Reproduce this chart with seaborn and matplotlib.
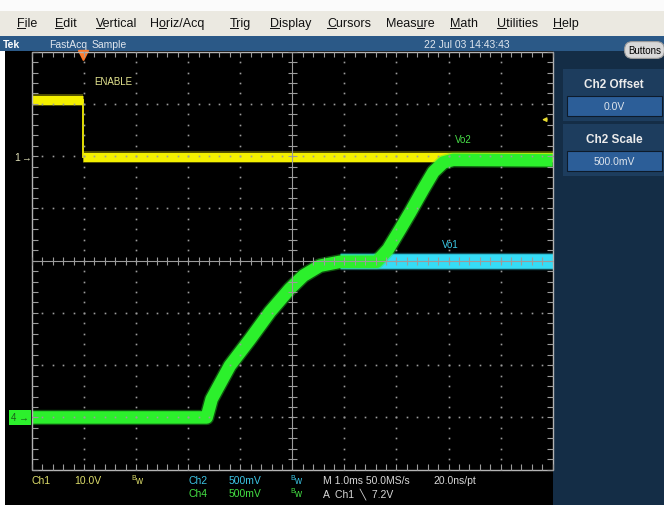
import numpy as np
import pandas as pd
import seaborn as sns
import matplotlib.pyplot as plt
import matplotlib.transforms as mtransforms
from matplotlib.patches import Rectangle
from matplotlib.lines import Line2D
from matplotlib import font_manager

# --- scope settings and captured waveforms (time in ms, volts) ---
time_per_div = 1.0
trigger_div = 0.97          # trigger position from left edge, in divisions
ch_scale = {1: 10.0, 2: 0.5, 4: 0.5}      # V/div
ch_position = {1: 1.98, 2: -3.0, 4: -3.0}  # ground marker position, div

enable_t = [-0.97, 0.0, 0.0, 9.03]
enable_v = [10.9, 10.9, 0.0, 0.0]

vo2_t = [-0.97, 2.385, 2.48, 2.83, 3.22, 3.60, 3.98, 4.24, 4.56, 4.95, 5.65,
         5.87, 6.10, 6.29, 6.55, 6.74, 6.93, 7.12, 9.03]
vo2_v = [0.0, 0.0, 0.175, 0.495, 0.75, 1.01, 1.23, 1.356, 1.452, 1.49, 1.49,
         1.61, 1.80, 1.96, 2.19, 2.35, 2.44, 2.465, 2.46]

vo1_t = [4.95, 9.03]
vo1_v = [1.50, 1.50]

trigger_level = 7.2

menu_items = ['File', 'Edit', 'Vertical', 'Horiz/Acq', 'Trig', 'Display',
              'Cursors', 'Measure', 'Math', 'Utilities', 'Help']
menu_hotkey = [0, 0, 0, 1, 0, 0, 0, 4, 0, 0, 0]
menu_x = [17, 55, 96, 150, 230, 270, 327, 386, 450, 497, 553]

W, H = 664, 506
YELLOW = '#f4f000'
GREEN = '#2cf02c'
CYAN = '#36dcf6'
GRID = '#9c9c9c'

names = {f.name for f in font_manager.fontManager.ttflist}
narrow = 'Liberation Sans Narrow' if 'Liberation Sans Narrow' in names else 'Liberation Sans'
plt.rcParams['font.family'] = [narrow, 'DejaVu Sans']

fig = plt.figure(figsize=(W / 100, H / 100), dpi=100, facecolor='white')


def box(x0, y0, x1, y1, fc, ec='none', lw=0.0):
    fig.patches.append(Rectangle((x0 / W, 1 - y1 / H), (x1 - x0) / W, (y1 - y0) / H,
                                 transform=fig.transFigure, fc=fc, ec=ec, lw=lw, zorder=-5))


def label(x, y, s, color, size=7.5, **kw):
    return fig.text(x / W, 1 - y / H, s, color=color, fontsize=size, va='center', **kw)


# window chrome
box(0, 0, W, 12, '#fbfbfb')
box(0, 12, W, 37, '#ebe9e1')
box(0, 37, W, 52, '#2b5987')
box(5, 52, 553, H, 'black')
box(553, 52, W, H, '#142d46')

# right side panel
for y0, title, value in [(70, 'Ch2 Offset', '0.0V'), (125, 'Ch2 Scale', '500.0mV')]:
    box(563, y0, W, y0 + 52, '#1d3d5e')
    label(614, y0 + 15, title, '#ececec', size=8.5, ha='center', fontweight='bold')
    box(567, y0 + 27, 662, y0 + 47, '#2c5e98', ec='#0d1b2b', lw=0.8)
    label(614, y0 + 37, value, '#dde4ec', size=7.5, ha='center')
label(628, 51, 'Buttons', 'black', size=7,
      bbox=dict(boxstyle='round,pad=0.35,rounding_size=0.8', fc='#d8d8d8', ec='#9a9a9a', lw=0.8))

# menu bar
MENU_SIZE = 9
menu_texts = []
for s, x in zip(menu_items, menu_x):
    menu_texts.append(label(x, 24, s, '#111111', size=MENU_SIZE))

# status bar
label(3, 45, 'Tek', 'white', size=7.5, fontweight='bold')
label(49, 45, 'FastAcq', '#dfe6ee', size=7.5)
label(92, 45, 'Sample', '#dfe6ee', size=7.5)
label(424, 45, '22 Jul 03 14:43:43', '#dfe6ee', size=7.5)

# --- scope axes, one per channel, all sharing the graticule rectangle ---
rect = [32 / W, 1 - 470.7 / H, 520.7 / W, 418 / H]
xlim = (-trigger_div * time_per_div, (10 - trigger_div) * time_per_div)


def scope_axes(ch=None):
    a = fig.add_axes(rect)
    a.set_xlim(*xlim)
    if ch is None:
        a.set_ylim(-4, 4)
    else:
        a.set_ylim((-4 - ch_position[ch]) * ch_scale[ch], (4 - ch_position[ch]) * ch_scale[ch])
    a.axis('off')
    return a


ax2 = scope_axes(2)
ax1 = scope_axes(1)
ax4 = scope_axes(4)
axg = scope_axes()
axg.set_xlim(0, 10)


def trace(a, t, v, color, lw):
    df = pd.DataFrame({'t': t, 'v': v})
    kw = dict(estimator=None, sort=False, color=color, legend=False,
              solid_capstyle='butt', solid_joinstyle='round')
    sns.lineplot(data=df, x='t', y='v', ax=a, lw=lw + 2, alpha=0.35, **kw)
    sns.lineplot(data=df, x='t', y='v', ax=a, lw=lw, **kw)


trace(ax2, vo1_t, vo1_v, CYAN, 10.5)
for i in range(len(enable_t) - 1):
    seg_t, seg_v = enable_t[i:i + 2], enable_v[i:i + 2]
    if seg_t[0] == seg_t[1]:
        sns.lineplot(x=seg_t, y=seg_v, ax=ax1, estimator=None, sort=False,
                     color=YELLOW, lw=1.3, legend=False)
    else:
        trace(ax1, seg_t, seg_v, YELLOW, 6.5)
trace(ax4, vo2_t, vo2_v, GREEN, 9)

# graticule
minor = np.arange(0, 10.01, 0.2)
yminor = np.arange(-4, 4.01, 0.2)
for k in range(1, 10):
    if k != 5:
        axg.plot(np.full_like(yminor, k), yminor, ls='none', marker='s', ms=1.2, mew=0, color=GRID)
for j in range(-3, 4):
    if j != 0:
        axg.plot(minor, np.full_like(minor, j), ls='none', marker='s', ms=1.2, mew=0, color=GRID)
axg.axvline(5, color=GRID, lw=0.8)
axg.axhline(0, color=GRID, lw=0.8)
axg.vlines(minor, -0.08, 0.08, color=GRID, lw=0.8)
axg.hlines(yminor, 4.92, 5.08, color=GRID, lw=0.8)
axg.vlines(minor, -4, -3.89, color=GRID, lw=0.8, clip_on=False)
axg.vlines(minor, 3.89, 4, color=GRID, lw=0.8, clip_on=False)
axg.hlines(yminor, 0, 0.11, color=GRID, lw=0.8, clip_on=False)
axg.hlines(yminor, 9.89, 10, color=GRID, lw=0.8, clip_on=False)
axg.add_patch(Rectangle((0, -4), 10, 8, fill=False, ec='#b4b4b4', lw=1.0, clip_on=False))

# trigger position and level markers
tpos = mtransforms.blended_transform_factory(ax1.transData, ax1.transAxes)
ax1.plot([0], [0.992], transform=tpos, marker='v', ms=6.5, color='#ff7a2a', clip_on=False)
tlev = mtransforms.blended_transform_factory(ax1.transAxes, ax1.transData)
ax1.annotate('', xy=(0.974, trigger_level), xytext=(0.994, trigger_level), xycoords=tlev,
             arrowprops=dict(arrowstyle='-|>', color='#e8dc30', lw=1.0, mutation_scale=6))

# ground markers
g1 = mtransforms.blended_transform_factory(fig.transFigure, ax1.transData)
fig.text(14 / W, 0, '1', transform=g1, color='#e0e0b8', fontsize=7.5, va='center')
fig.text(21 / W, 0, '\u2192', transform=g1, color='#e0e0b8', fontsize=7, va='center')
g4 = mtransforms.blended_transform_factory(fig.transFigure, ax4.transData)
fig.text(11 / W, 0, '4 \u2192', transform=g4, color='#1b5e1b', fontsize=7, va='center',
         bbox=dict(boxstyle='square,pad=0.25', fc=GREEN, ec='none'))

# waveform labels
label(94, 82, 'ENABLE', '#e6e690', size=7)
label(455, 140, 'Vo2', '#48e048', size=7)
label(442, 245, 'Vo1', '#3ccbe8', size=7)

# readout line
c1, c2, c4, cm = '#dede6a', '#3cc4e4', '#44e044', '#d8d8d8'
for x, s, c, y in [(32, 'Ch1', c1, 481), (74, '10.0V', c1, 481),
                   (188, 'Ch2', c2, 481), (229, '500mV', c2, 481),
                   (188, 'Ch4', c4, 494), (229, '500mV', c4, 494),
                   (323, 'M 1.0ms 50.0MS/s', cm, 481), (433, '20.0ns/pt', cm, 481),
                   (323, 'A  Ch1  \u2572  7.2V', cm, 494)]:
    label(x, y, s, c, size=7.5)
for x, c, y in [(131, c1, 481), (290, c2, 481), (290, c4, 494)]:
    label(x, y - 2, 'B', c, size=5)
    label(x + 4.5, y + 0.5, 'w', c, size=7)

# menu hotkey underlines
fig.canvas.draw()
r = fig.canvas.get_renderer()
for t, s, k in zip(menu_texts, menu_items, menu_hotkey):
    bb = t.get_window_extent(r)
    widths = []
    for part in (s[:k], s[:k + 1]):
        if part:
            tmp = fig.text(0, 0, part, fontsize=MENU_SIZE)
            widths.append(tmp.get_window_extent(r).width)
            tmp.remove()
        else:
            widths.append(0.0)
    yy = bb.y0 + 1
    fig.add_artist(Line2D([(bb.x0 + widths[0]) / W, (bb.x0 + widths[1]) / W], [yy / H, yy / H],
                          transform=fig.transFigure, color='#111111', lw=0.7))

fig.savefig('out.png', dpi=100, facecolor=fig.get_facecolor())
